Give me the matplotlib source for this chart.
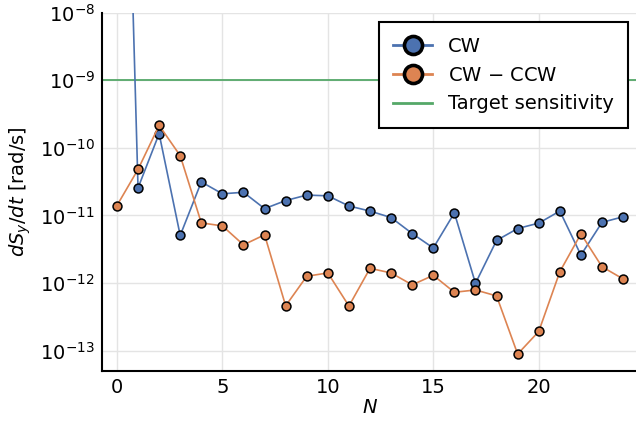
import numpy as np
from matplotlib import pyplot as plt
from matplotlib.lines import Line2D

# Values
n_values = list(range(25))
cw = [3.0, 2.55e-11, 1.62e-10, 5.06e-12, 3.13e-11, 2.09e-11, 2.2e-11, 1.26e-11,
      1.66e-11, 2.0e-11, 1.95e-11, 1.38e-11, 1.16e-11, 9.3e-12, 5.4e-12, 3.3e-12,
      1.09e-11, 9.9e-13, 4.27e-12, 6.4e-12, 7.7e-12, 1.16e-11, 2.59e-12, 7.9e-12,
      9.55e-12]
cw_minus_ccw = [1.4e-11, 4.8e-11, 2.15e-10, 7.65e-11, 7.76e-12, 7.0e-12, 3.67e-12,
                5.17e-12, 4.6e-13, 1.26e-12, 1.41e-12, 4.57e-13, 1.65e-12, 1.41e-12,
                9.4e-13, 1.3e-12, 7.3e-13, 7.9e-13, 6.45e-13, 8.9e-14, 1.92e-13,
                1.47e-12, 5.35e-12, 1.74e-12, 1.15e-12]
target = 1e-9
labels = ['CW', 'CW $-$ CCW', 'Target sensitivity']

blue = '#4c72b0'
orange = '#dd8452'
green = '#55a868'


def main():
    plt.rcParams['font.family'] = 'DejaVu Sans'
    plt.rcParams['mathtext.fontset'] = 'dejavusans'
    fig = plt.figure(figsize=(6.36, 4.21), dpi=100)
    ax = fig.add_axes([0.160, 0.1188, 0.8436, 0.8512])

    ax.plot(n_values, cw, color=blue, lw=1.2, marker='o', ms=6.4,
            mfc=blue, mec='black', mew=1.1, zorder=3)
    ax.plot(n_values, cw_minus_ccw, color=orange, lw=1.2, marker='o', ms=6.4,
            mfc=orange, mec='black', mew=1.1, zorder=3)
    ax.axhline(target, color=green, lw=1.3, zorder=2)

    ax.set_yscale('log')
    ax.set_ylim(5e-14, 1e-8)
    ax.set_xlim(-0.72, 24.72)
    ax.set_xticks([0, 5, 10, 15, 20])
    ax.set_yticks([1e-13, 1e-12, 1e-11, 1e-10, 1e-9, 1e-8])
    ax.minorticks_off()
    ax.tick_params(length=0, labelsize=14, pad=5)
    ax.grid(True, color='#e4e4e4', lw=1)
    ax.set_axisbelow(True)

    for side in ['top', 'right']:
        ax.spines[side].set_visible(False)
    for side in ['left', 'bottom']:
        ax.spines[side].set_linewidth(1.5)

    ax.set_xlabel('$N$', fontsize=14, labelpad=1)
    ax.set_ylabel('$dS_y/dt$ [rad/s]', fontsize=14, labelpad=5)

    handles = [
        Line2D([], [], color=blue, lw=2, marker='o', ms=13, mfc=blue,
               mec='black', mew=2.6),
        Line2D([], [], color=orange, lw=2, marker='o', ms=13, mfc=orange,
               mec='black', mew=2.6),
        Line2D([], [], color=green, lw=2),
    ]
    leg = ax.legend(handles, labels, loc='upper right',
                    bbox_to_anchor=(0.981, 0.973), borderaxespad=0,
                    fontsize=14, fancybox=False, framealpha=1,
                    edgecolor='black', handlelength=2.0, labelspacing=0.5,
                    borderpad=0.75, handletextpad=0.8)
    leg.get_frame().set_linewidth(1.5)

    fig.savefig('out.png', dpi=100)


if __name__ == '__main__':
    main()
